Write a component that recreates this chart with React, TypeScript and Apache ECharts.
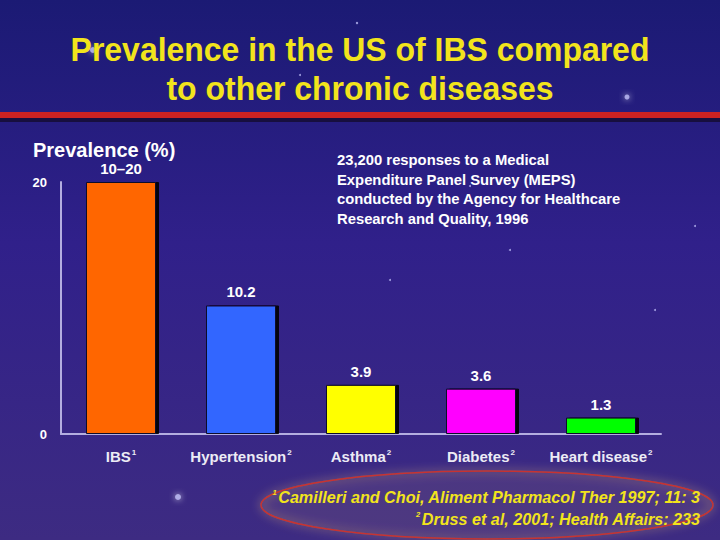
import React, { useEffect, useRef } from "react";
import * as echarts from "echarts";

const categories = ["IBS", "Hypertension", "Asthma", "Diabetes", "Heart disease"];
const refs = ["1", "2", "2", "2", "2"];
const values = [20, 10.2, 3.9, 3.6, 1.3];
const valueLabels = ["10–20", "10.2", "3.9", "3.6", "1.3"];
const barColors = ["#ff6600", "#3366ff", "#ffff00", "#ff00ff", "#00ff00"];
const yTicks = [0, 20];
const titleLines = ["Prevalence in the US of IBS compared", "to other chronic diseases"];
const noteLines = [
  "23,200 responses to a Medical",
  "Expenditure Panel Survey (MEPS)",
  "conducted by the Agency for Healthcare",
  "Research and Quality, 1996",
];
const footnotes = [
  { ref: "1", text: "Camilleri and Choi, Aliment Pharmacol Ther 1997; 11: 3" },
  { ref: "2", text: "Druss et al, 2001; Health Affairs: 233" },
];
const stars = [
  [93, 50, 3], [357, 23, 1.2], [627, 97, 2.5], [178, 497, 3], [510, 250, 1], [390, 280, 1],
  [695, 226, 1], [655, 310, 1], [470, 186, 1], [248, 320, 1], [300, 75, 1], [580, 60, 1],
];

const sans = "'Liberation Sans', Arial, sans-serif";

export default function App() {
  const ref = useRef<HTMLDivElement>(null);
  useEffect(() => {
    if (!ref.current) return;
    const chart = echarts.init(ref.current, null, { renderer: "svg" });
    const shadow = { textShadowColor: "#000", textShadowOffsetX: 2, textShadowOffsetY: 2, textShadowBlur: 0 };
    const graphics: any[] = [];
    stars.forEach(([x, y, r]) => {
      graphics.push({
        type: "circle", silent: true, z: 0,
        shape: { cx: x, cy: y, r },
        style: { fill: "#c8c8ff", opacity: 0.75, shadowColor: "#ffffff", shadowBlur: r > 2 ? 6 : 0 },
      });
    });
    graphics.push({
      type: "rect", z: 1, silent: true,
      shape: { x: 0, y: 117, width: 720, height: 5 },
      style: { fill: "#140c30", opacity: 0.8 },
    });
    graphics.push({
      type: "rect", z: 2, silent: true,
      shape: { x: 0, y: 112, width: 720, height: 6 },
      style: { fill: "#cc2222" },
    });
    titleLines.forEach((t, i) => {
      graphics.push({
        type: "text", z: 5, x: 360, y: 49 + i * 39, scaleX: 0.94,
        style: {
          text: t, fill: "#f2e41c", font: `bold 34px ${sans}`,
          align: "center", verticalAlign: "middle", ...shadow,
        },
      });
    });
    graphics.push({
      type: "text", z: 5, x: 33, y: 150,
      style: { text: "Prevalence (%)", fill: "#ffffff", font: `bold 20px ${sans}`, verticalAlign: "middle", ...shadow },
    });
    noteLines.forEach((t, i) => {
      graphics.push({
        type: "text", z: 5, x: 337, y: 160 + i * 19.5,
        style: { text: t, fill: "#ffffff", font: `bold 14.8px ${sans}`, verticalAlign: "middle", textShadowColor: "#000", textShadowOffsetX: 1.5, textShadowOffsetY: 1.5 },
      });
    });
    graphics.push({
      type: "ellipse", z: 3, silent: true,
      shape: { cx: 487, cy: 505, rx: 226, ry: 34 },
      style: { fill: "rgba(200,150,120,0.06)", stroke: "#c83030", lineWidth: 1.5, shadowColor: "#e0b070", shadowBlur: 10 },
    });
    footnotes.forEach((f, i) => {
      graphics.push({
        type: "text", z: 5, x: 700, y: 497 + i * 22, scaleX: 0.95,
        style: {
          text: `{s|${f.ref}}{t|${f.text}}`,
          align: "right", verticalAlign: "middle",
          rich: {
            s: { fill: "#f2e41c", font: `italic bold 8px ${sans}`, verticalAlign: "top", padding: [0, 1, 8, 0], ...shadow },
            t: { fill: "#f2e41c", font: `italic bold 17px ${sans}`, ...shadow },
          },
        },
      });
    });

    chart.setOption({
      animation: false,
      backgroundColor: {
        type: "linear", x: 0, y: 0, x2: 0, y2: 1,
        colorStops: [
          { offset: 0, color: "#1b1a74" },
          { offset: 0.45, color: "#30208a" },
          { offset: 1, color: "#3d2b82" },
        ],
      },
      grid: { left: 61, right: 59, top: 182, bottom: 106, containLabel: false },
      xAxis: {
        type: "category",
        data: categories,
        axisLine: { show: true, lineStyle: { color: "#b4aee0", width: 2 } },
        axisTick: { show: false },
        axisLabel: {
          interval: 0,
          margin: 14,
          formatter: (v: string, i: number) => `{n|${v}}{s|${refs[i]}}`,
          rich: {
            n: { color: "#ecebf5", fontFamily: sans, fontWeight: "bold", fontSize: 15, ...shadow },
            s: { color: "#ecebf5", fontFamily: sans, fontWeight: "bold", fontSize: 8, verticalAlign: "top", padding: [0, 0, 8, 1], ...shadow },
          },
        },
      },
      yAxis: {
        type: "value",
        min: yTicks[0],
        max: yTicks[1],
        interval: 20,
        splitLine: { show: false },
        axisLine: { show: true, lineStyle: { color: "#b4aee0", width: 2 } },
        axisTick: { show: false },
        axisLabel: {
          margin: 14, color: "#ffffff", fontFamily: sans, fontWeight: "bold", fontSize: 13, ...shadow,
        },
      },
      graphic: graphics,
      series: [
        {
          type: "bar",
          barWidth: 70,
          z: 4,
          data: values.map((v, i) => ({
            value: v,
            itemStyle: {
              color: barColors[i], borderColor: "#10082a", borderWidth: 1,
              shadowColor: "rgba(0,0,0,0.9)", shadowOffsetX: 3, shadowOffsetY: 0, shadowBlur: 0,
            },
            label: {
              show: true, position: "top", distance: 6,
              formatter: valueLabels[i],
              color: "#ffffff", fontFamily: sans, fontWeight: "bold", fontSize: 15, ...shadow,
            },
          })),
        },
      ],
    });
    return () => chart.dispose();
  }, []);
  return <div ref={ref} style={{ position: "fixed", left: 0, top: 0, width: 720, height: 540 }} />;
}
